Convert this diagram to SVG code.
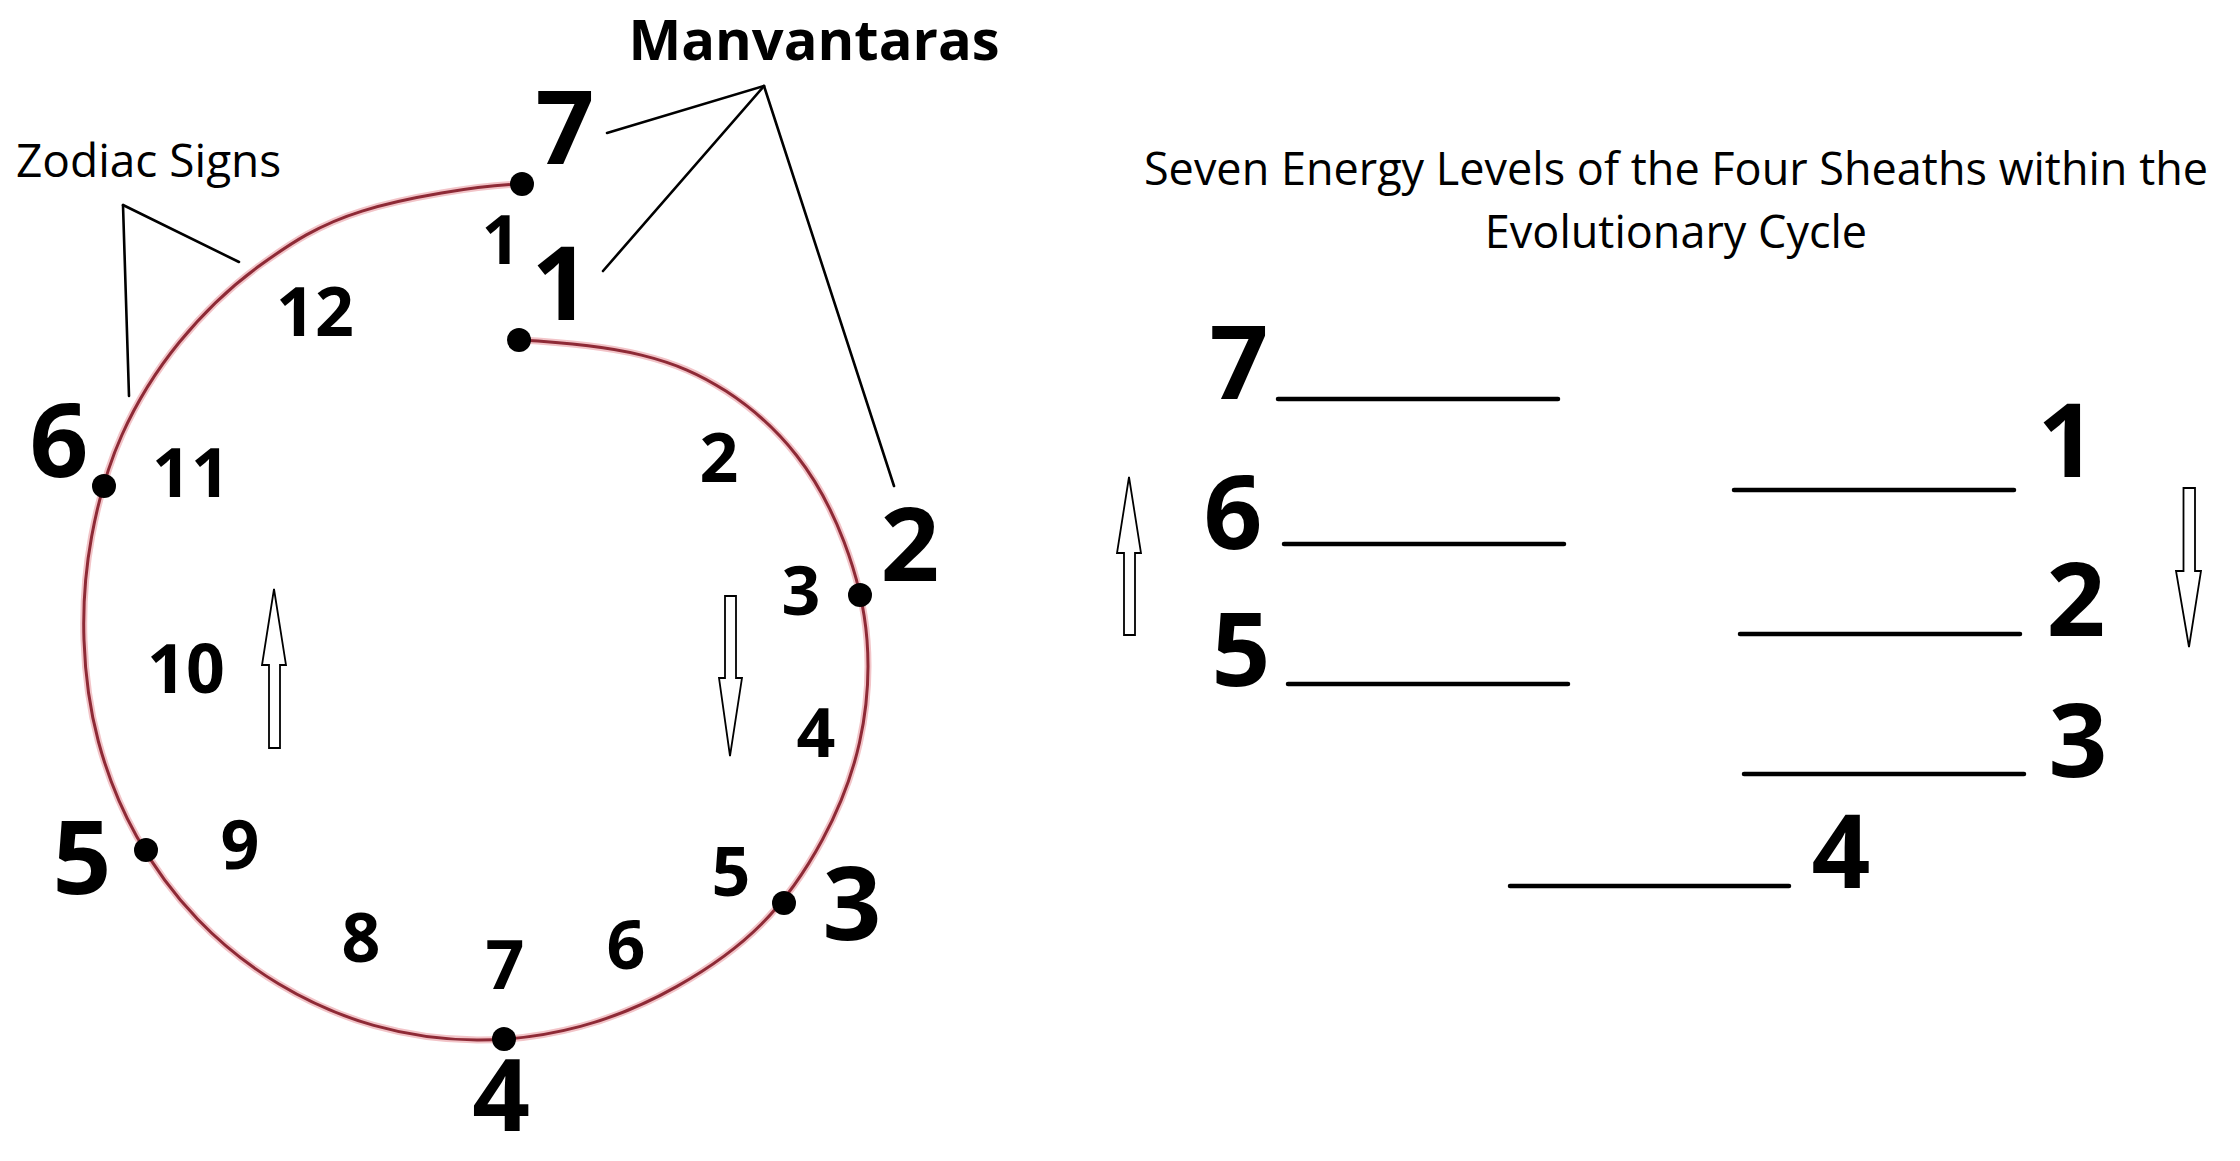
<svg xmlns="http://www.w3.org/2000/svg" width="2240" height="1161" viewBox="0 0 2240 1161">
<style>
  .t { font-family: "Open Sans", "Noto Sans", sans-serif; fill: #000; }
  .reg { font-weight: 400; }
  .big { font-weight: 700; font-size: 103px; text-anchor: middle; }
  .sm { font-weight: 700; font-size: 68px; text-anchor: middle; }
  .lead { stroke: #000; stroke-width: 2.6; fill: none; stroke-linecap: round; }
  .blank { stroke: #000; stroke-width: 4.5; stroke-linecap: round; }
  .arr { fill: #fff; stroke: #000; stroke-width: 1.8; stroke-linejoin: miter; }
  .dot { fill: #000; }
  .glow { fill: none; stroke: #f2c4c8; stroke-width: 7; }
  .arc { fill: none; stroke: #8e2a36; stroke-width: 3; }
</style>
<defs>
  <path id="arc-path" d="M519.2,340 C559,342 607.05,346.6 641.5,355.1 C675.95,363.6 700.05,374.37 725.9,391.1 C751.75,407.83 776.92,430.4 796.6,455.5 C816.28,480.6 832.27,510.95 844,541.7 C855.73,572.45 864.42,606.53 867,640 C869.58,673.47 866.92,709.25 859.5,742.5 C852.08,775.75 838.87,809.2 822.5,839.5 C806.13,869.8 785.55,899.82 761.3,924.3 C737.05,948.78 707.13,969.38 677,986.4 C646.87,1003.42 613.83,1017.47 580.5,1026.4 C547.17,1035.33 511.47,1040.17 477,1040 C442.53,1039.83 406.78,1034.77 373.7,1025.4 C340.62,1016.03 307.83,1001.48 278.5,983.8 C249.17,966.12 221.33,943.85 197.7,919.3 C174.07,894.75 153.25,866.13 136.7,836.5 C120.15,806.87 107.18,774.25 98.4,741.5 C89.62,708.75 85.13,674.13 84,640 C82.87,605.87 85.28,570.87 91.6,536.7 C97.92,502.53 107.28,467.4 121.9,435 C136.52,402.6 156.2,370.63 179.3,342.3 C202.4,313.97 230.03,286.87 260.5,265 C290.97,243.13 318.52,224.6 362.1,211.1 C405.68,197.6 477,185.5 522,184"/>
</defs>
<rect x="0" y="0" width="2240" height="1161" fill="#fff"/>

<g id="connectors">
  <g id="cycle-arc">
    <use href="#arc-path" class="glow"/>
    <use href="#arc-path" class="arc"/>
  </g>
  <g id="manvantara-leaders">
    <line class="lead" x1="764" y1="86" x2="607" y2="133"/>
    <line class="lead" x1="764" y1="86" x2="603" y2="271"/>
    <line class="lead" x1="764" y1="86" x2="894" y2="486"/>
  </g>
  <g id="zodiac-leaders">
    <line class="lead" x1="123" y1="205" x2="239" y2="262"/>
    <line class="lead" x1="123" y1="205" x2="129" y2="396"/>
  </g>
</g>

<g id="title-manvantaras">
  <text class="t" x="814" y="60" font-size="56" font-weight="700" text-anchor="middle">Manvantaras</text>
</g>
<g id="title-zodiac">
  <text class="t reg" x="16" y="177" font-size="46">Zodiac Signs</text>
</g>

<g id="manvantara-7"><circle class="dot" cx="522" cy="184" r="12"/><text class="t big" x="565" y="164">7</text></g>
<g id="manvantara-1"><circle class="dot" cx="519" cy="340" r="12"/><text class="t big" x="561" y="320">1</text></g>
<g id="manvantara-2"><circle class="dot" cx="860" cy="595" r="12"/><text class="t big" x="910" y="581">2</text></g>
<g id="manvantara-3"><circle class="dot" cx="784" cy="903" r="12"/><text class="t big" x="852" y="940">3</text></g>
<g id="manvantara-4"><circle class="dot" cx="504" cy="1039" r="12"/><text class="t" x="501" y="1131" font-size="101" font-weight="700" text-anchor="middle">4</text></g>
<g id="manvantara-5"><circle class="dot" cx="146" cy="850" r="12"/><text class="t big" x="82" y="894">5</text></g>
<g id="manvantara-6"><circle class="dot" cx="104" cy="486" r="12"/><text class="t big" x="59" y="477">6</text></g>

<g id="zodiac-numbers">
  <text class="t sm" x="501" y="264">1</text>
  <text class="t sm" x="719" y="482">2</text>
  <text class="t sm" x="801" y="615">3</text>
  <text class="t sm" x="816" y="757">4</text>
  <text class="t sm" x="731" y="896">5</text>
  <text class="t sm" x="626" y="969">6</text>
  <text class="t sm" x="505" y="989">7</text>
  <text class="t sm" x="361" y="962">8</text>
  <text class="t sm" x="240" y="869">9</text>
  <text class="t sm" x="186" y="693">10</text>
  <text class="t sm" x="191" y="497">11</text>
  <text class="t sm" x="315" y="336">12</text>
</g>

<g id="cycle-arrows">
  <polygon class="arr" points="274,589 286,665 280,665 280,748 269,748 269,665 262,665"/>
  <polygon class="arr" points="725,596 736,596 736,678 742,678 730,756 719,678 725,678"/>
</g>

<g id="title-energy">
  <text class="t reg" x="1676" y="185" font-size="45" text-anchor="middle">Seven Energy Levels of the Four Sheaths within the</text>
  <text class="t reg" x="1676" y="248" font-size="45" text-anchor="middle">Evolutionary Cycle</text>
</g>

<g id="level-7"><text class="t big" x="1239" y="399">7</text><line class="blank" x1="1278" y1="399" x2="1558" y2="399"/></g>
<g id="level-6"><text class="t big" x="1233" y="549">6</text><line class="blank" x1="1284" y1="544" x2="1564" y2="544"/></g>
<g id="level-5"><text class="t big" x="1241" y="686">5</text><line class="blank" x1="1288" y1="684" x2="1568" y2="684"/></g>
<g id="level-1"><text class="t big" x="2067" y="477">1</text><line class="blank" x1="1734" y1="490" x2="2014" y2="490"/></g>
<g id="level-2"><text class="t big" x="2076" y="636">2</text><line class="blank" x1="1740" y1="634" x2="2020" y2="634"/></g>
<g id="level-3"><text class="t big" x="2078" y="777">3</text><line class="blank" x1="1744" y1="774" x2="2024" y2="774"/></g>
<g id="level-4"><text class="t big" x="1841" y="888">4</text><line class="blank" x1="1510" y1="886" x2="1789" y2="886"/></g>

<g id="level-arrows">
  <polygon class="arr" points="1129,477 1141,553 1135,553 1135,635 1124,635 1124,553 1117,553"/>
  <polygon class="arr" points="2183.5,488 2195,488 2195,571 2201,571 2189,647 2176,571 2183.5,571"/>
</g>
</svg>
